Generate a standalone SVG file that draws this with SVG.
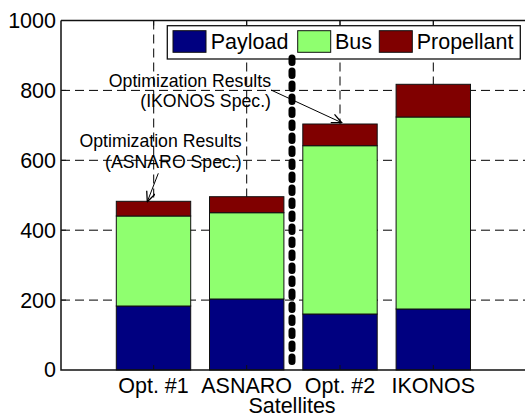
<svg xmlns="http://www.w3.org/2000/svg" width="525" height="418" viewBox="0 0 525 418">
<style>
text{font-family:"Liberation Sans",Arial,sans-serif;fill:#000}
.tick{font-size:21.5px}
.ann{font-size:17.7px;text-anchor:end}
.grid{stroke:#000;stroke-width:1;stroke-dasharray:9 5;fill:none}
.ax{stroke:#111;stroke-width:1.5;fill:none}
.pay{fill:#000080;stroke:#111;stroke-width:1}
.bus{fill:#8FFF6F;stroke:#111;stroke-width:1}
.pro{fill:#800000;stroke:#111;stroke-width:1}
.arr{stroke:#000;stroke-width:1;fill:none}
</style>
<defs>
<marker id="ah" markerUnits="userSpaceOnUse" markerWidth="12" markerHeight="12" refX="11" refY="5" orient="auto">
<path d="M1,0.5 L11,5 L1,9.5" fill="none" stroke="#000" stroke-width="1.3"/>
</marker>
</defs>
<rect width="525" height="418" fill="#fff"/>
<g id="grid">
<path class="grid" d="M61,90.4H525M61,160.3H525M61,230.2H525M61,300.1H525"/>
<path class="grid" d="M153.7,20.5V370M246.7,20.5V370M340,20.5V370M433.3,20.5V370"/>
</g>
<g id="bar-opt1">
<rect class="pay" x="116.3" y="306" width="74.4" height="64"/>
<rect class="bus" x="116.3" y="216" width="74.4" height="90"/>
<rect class="pro" x="116.3" y="201.3" width="74.4" height="14.7"/>
</g>
<g id="bar-asnaro">
<rect class="pay" x="209.5" y="299" width="74.4" height="71"/>
<rect class="bus" x="209.5" y="212.7" width="74.4" height="86.3"/>
<rect class="pro" x="209.5" y="196.7" width="74.4" height="16"/>
</g>
<g id="bar-opt2">
<rect class="pay" x="302.8" y="314" width="74.4" height="56"/>
<rect class="bus" x="302.8" y="145.7" width="74.4" height="168.3"/>
<rect class="pro" x="302.8" y="124" width="74.4" height="21.7"/>
</g>
<g id="bar-ikonos">
<rect class="pay" x="396.1" y="309" width="74.4" height="61"/>
<rect class="bus" x="396.1" y="117" width="74.4" height="192"/>
<rect class="pro" x="396.1" y="84.3" width="74.4" height="32.7"/>
</g>
<g id="axes">
<path class="ax" d="M61,20.5V370H525M61,20.5H525"/>
<path stroke="#111" stroke-width="1" d="M61,20.5h5M61,90.4h5M61,160.3h5M61,230.2h5M61,300.1h5M153.7,370v-5M246.7,370v-5M340,370v-5M433.3,370v-5M153.7,20.5v5M246.7,20.5v5M340,20.5v5M433.3,20.5v5"/>
<g class="tick" text-anchor="end">
<text x="56" y="27.9">1000</text>
<text x="56" y="97.8">800</text>
<text x="56" y="167.7">600</text>
<text x="56" y="237.6">400</text>
<text x="56" y="307.5">200</text>
<text x="56" y="377.4">0</text>
</g>
<g class="tick" text-anchor="middle">
<text x="153.5" y="392.7">Opt. #1</text>
<text x="246.7" y="392.7">ASNARO</text>
<text x="340" y="392.7">Opt. #2</text>
<text x="433.3" y="392.7">IKONOS</text>
<text x="292" y="413.3">Satellites</text>
</g>
</g>
<g id="legend">
<rect x="167.3" y="25.7" width="353" height="33.3" fill="#fff" stroke="#111" stroke-width="1.3"/>
<rect class="pay" x="173" y="30.7" width="33" height="21.6"/>
<text class="tick" x="210.7" y="49">Payload</text>
<rect class="bus" x="297.7" y="30.7" width="33" height="21.6"/>
<text class="tick" x="335" y="49">Bus</text>
<rect class="pro" x="379.3" y="30.7" width="33" height="21.6"/>
<text class="tick" x="416.7" y="49">Propellant</text>
</g>
<g id="annotation-asnaro">
<text class="ann" x="241.7" y="147.3">Optimization Results</text>
<text class="ann" x="241.7" y="168.3">(ASNARO Spec.)</text>
</g>
<g id="annotation-ikonos">
<text class="ann" x="271" y="86.7">Optimization Results</text>
<text class="ann" x="271" y="107.3">(IKONOS Spec.)</text>
</g>
<g id="connectors">
<line class="arr" x1="158.3" y1="173.3" x2="147.3" y2="201.7" marker-end="url(#ah)"/>
<line class="arr" x1="271" y1="90" x2="341.7" y2="122.7" marker-end="url(#ah)"/>
</g>
<g id="divider">
<line x1="292" y1="58" x2="292" y2="370" stroke="#000" stroke-width="7" stroke-linecap="round" stroke-dasharray="4.5 8.5"/>
</g>
</svg>
